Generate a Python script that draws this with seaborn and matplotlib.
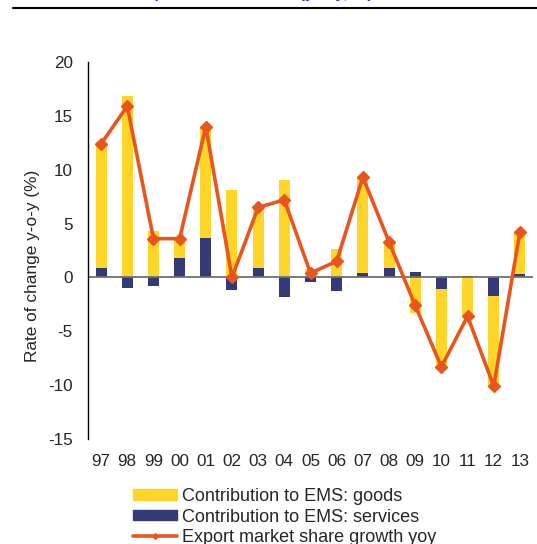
import numpy as np
import matplotlib
matplotlib.use("Agg")
import matplotlib.pyplot as plt
import seaborn as sns
from matplotlib.lines import Line2D
from matplotlib.patches import Patch

# data
years = ["97", "98", "99", "00", "01", "02", "03", "04", "05",
         "06", "07", "08", "09", "10", "11", "12", "13"]
goods = [11.6, 16.8, 4.3, 1.9, 10.3, 8.1, 5.5, 9.0, 0.8,
         2.6, 8.8, 2.4, -3.3, -7.2, -3.7, -8.5, 3.8]
services = [0.9, -0.95, -0.8, 1.8, 3.7, -1.2, 0.9, -1.85, -0.4,
            -1.3, 0.45, 0.9, 0.5, -1.1, 0.1, -1.7, 0.3]
ems_growth = [12.4, 15.9, 3.6, 3.6, 14.0, 0.0, 6.5, 7.2, 0.4,
              1.5, 9.3, 3.3, -2.6, -8.3, -3.6, -10.1, 4.2]

label_goods = "Contribution to EMS: goods"
label_serv = "Contribution to EMS: services"
label_line = "Export market share growth yoy"
ylab = "Rate of change y-o-y (%)"

c_goods = "#FFD52A"
c_serv = "#333A76"
c_line = "#E8561E"

sns.set_style("white")
plt.rcParams["font.family"] = ["Liberation Sans", "DejaVu Sans"]
plt.rcParams["axes.unicode_minus"] = False

fig = plt.figure(figsize=(5.37, 5.44), dpi=100)
ax = fig.add_axes([88 / 537, 105 / 544, 445 / 537, 377 / 544])

# stacking like excel: positives and negatives stack separately
goods_bottom = [s if (s > 0) == (g > 0) else 0 for g, s in zip(goods, services)]

sns.barplot(x=years, y=services, order=years, color=c_serv, width=0.42,
            saturation=1, ax=ax, linewidth=0)
sns.barplot(x=years, y=goods, order=years, color=c_goods, width=0.42,
            saturation=1, ax=ax, linewidth=0, bottom=goods_bottom)

ax.axhline(0, color="#707070", lw=1.3, zorder=1.5)
ax.plot(np.arange(len(years)), ems_growth, color=c_line, lw=2.6,
        marker="D", ms=6, zorder=4)

ax.set_xlim(-0.5, len(years) - 0.5)
ax.set_ylim(-15, 20)
ax.set_yticks(range(-15, 21, 5))
ax.set_xlabel("")
ax.set_ylabel(ylab, fontsize=12.4)
ax.yaxis.set_label_coords(-0.108, 0.459)
ax.tick_params(axis="both", length=0, labelsize=12.3)
ax.tick_params(axis="x", pad=11)
ax.tick_params(axis="y", pad=11)

for s in ["top", "right", "bottom"]:
    ax.spines[s].set_visible(False)
ax.spines["left"].set_color("black")
ax.spines["left"].set_linewidth(1.0)

handles = [Patch(color=c_goods), Patch(color=c_serv),
           Line2D([], [], color=c_line, lw=2.6, marker="D", ms=3)]
fig.legend(handles, [label_goods, label_serv, label_line],
           loc="upper left", bbox_to_anchor=(133 / 537, 1 - 488 / 544),
           frameon=False, fontsize=13, borderpad=0, labelspacing=0.2,
           handlelength=2.45, handleheight=0.5, handletextpad=0.25,
           borderaxespad=0)

# header rule and clipped title above the frame
fig.add_artist(Line2D([13 / 537, 1], [1 - 8 / 544, 1 - 8 / 544],
                      color="black", lw=1.5))
fig.text(0.25, 1.003, "Export market share (y-o-y, %)", color="#3636A8",
         fontsize=12, fontweight="bold", va="baseline")

fig.savefig("out.png", dpi=100)
